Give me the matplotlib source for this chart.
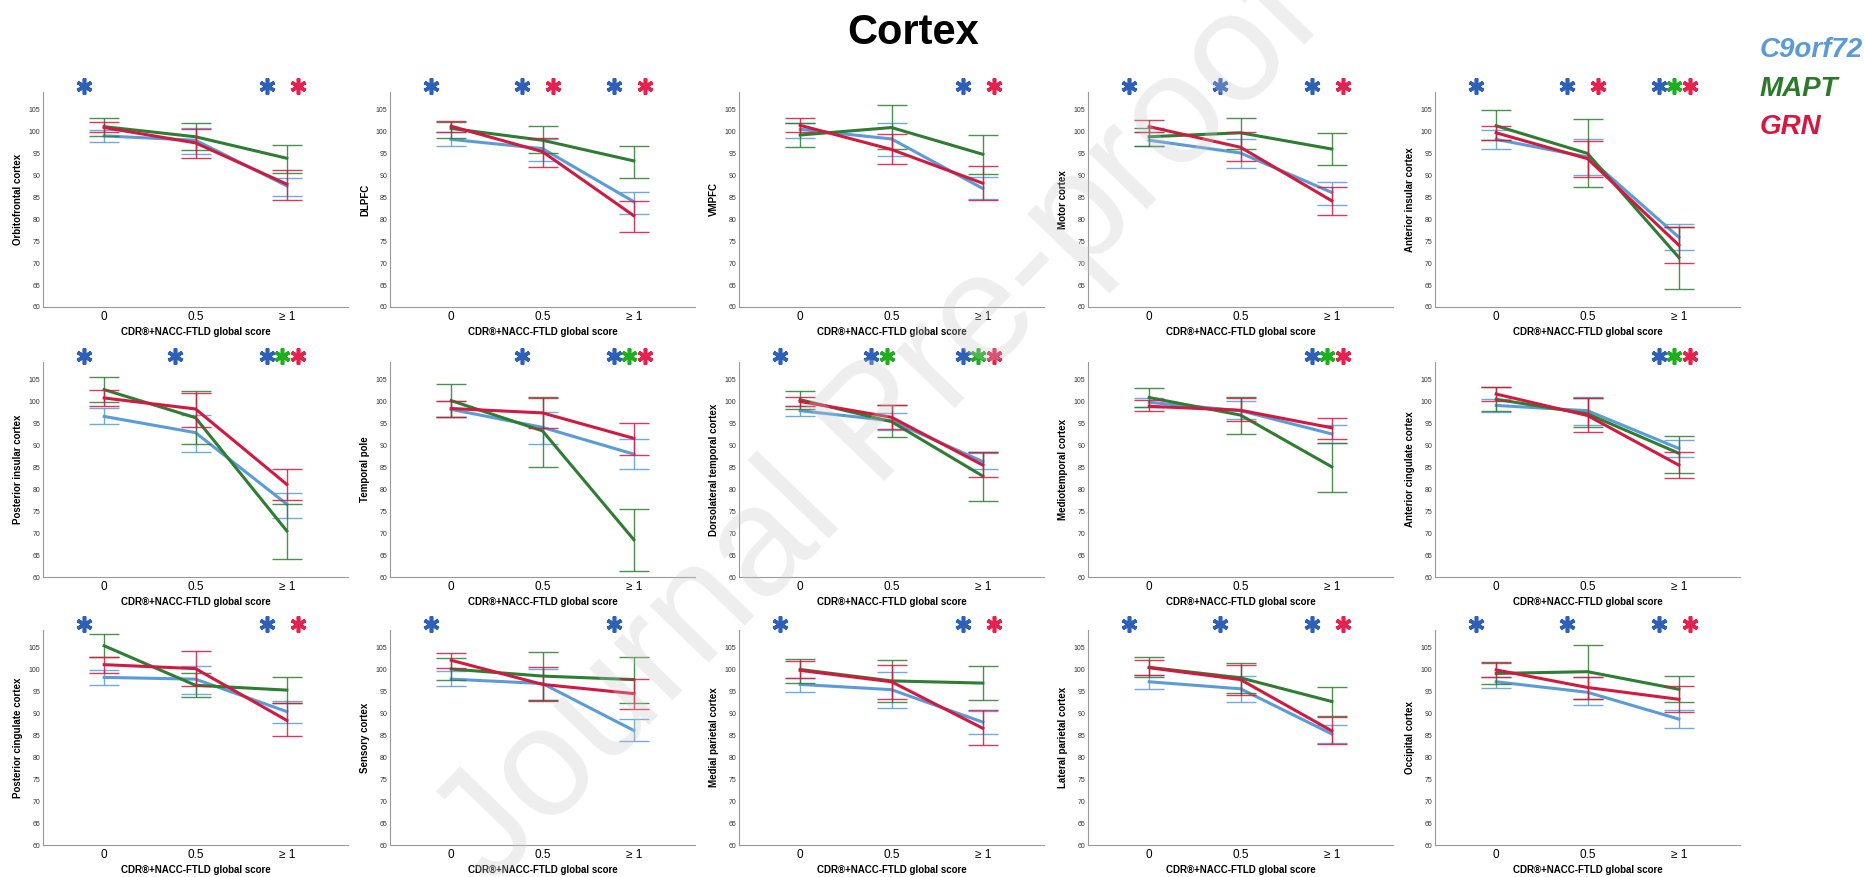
import matplotlib
matplotlib.use("Agg")
import matplotlib.pyplot as plt
import matplotlib.transforms as mtransforms

plt.rcParams['font.family'] = ['Liberation Sans', 'DejaVu Sans']

regions = ["Orbitofrontal cortex", "DLPFC", "VMPFC", "Motor cortex", "Anterior insular cortex",
           "Posterior insular cortex", "Temporal pole", "Dorsolateral temporal cortex",
           "Mediotemporal cortex", "Anterior cingulate cortex",
           "Posterior cingulate cortex", "Sensory cortex", "Medial parietal cortex",
           "Lateral parietal cortex", "Occipital cortex"]
stages = ["0", "0.5", "\u2265 1"]
groups = ["C9orf72", "MAPT", "GRN"]

# mean, lower and upper CI per region (rows) and stage (columns)
c9_mean = [[99.0, 98.0, 87.6], [98.2, 96.1, 84.0], [100.5, 98.3, 87.0], [98.0, 95.1, 86.1], [98.2, 94.2, 75.9],
           [96.6, 92.9, 76.6], [98.2, 94.1, 88.0], [97.9, 95.6, 86.3], [99.8, 97.9, 92.6], [99.1, 97.9, 89.3],
           [98.2, 97.8, 90.4], [97.8, 96.8, 86.1], [96.6, 95.4, 88.0], [97.2, 95.6, 85.3], [97.2, 94.8, 88.7]]
c9_lo = [[97.7, 94.8, 85.2], [96.7, 93.3, 81.2], [98.6, 94.5, 84.5], [96.7, 91.7, 83.3], [96.1, 90.0, 73.0],
         [94.8, 88.5, 73.5], [96.5, 90.4, 84.6], [96.6, 93.5, 84.6], [98.8, 95.9, 90.6], [97.6, 94.7, 87.4],
         [96.4, 94.5, 87.9], [96.3, 93.0, 83.7], [94.9, 91.2, 85.3], [95.6, 92.6, 83.2], [95.8, 91.9, 86.6]]
c9_hi = [[100.3, 100.9, 89.3], [99.9, 98.4, 86.1], [102.0, 102.0, 89.7], [99.8, 98.3, 88.6], [100.3, 98.2, 78.9],
         [98.5, 97.0, 79.2], [100.0, 97.7, 91.5], [99.0, 97.3, 88.2], [100.9, 100.0, 94.6], [100.6, 101.0, 91.2],
         [99.8, 100.8, 92.8], [99.6, 100.0, 88.7], [98.1, 99.5, 90.5], [98.7, 98.5, 87.3], [98.4, 98.2, 90.8]]

mapt_mean = [[101.1, 98.8, 93.9], [100.7, 98.0, 93.3], [99.2, 100.9, 94.8], [98.8, 99.7, 96.0], [101.3, 95.0, 71.3],
             [102.7, 96.3, 70.5], [100.2, 93.3, 68.5], [100.4, 95.4, 83.0], [100.9, 96.9, 85.1], [100.5, 97.2, 88.2],
             [105.4, 96.4, 95.3], [100.1, 98.5, 97.7], [100.0, 97.4, 96.9], [100.5, 98.1, 92.7], [99.1, 99.5, 95.5]]
mapt_lo = [[99.0, 95.8, 90.6], [98.6, 95.0, 89.5], [96.5, 95.9, 90.3], [96.7, 96.0, 92.3], [98.0, 87.3, 64.2],
           [99.8, 90.3, 64.1], [96.5, 85.1, 61.4], [98.2, 91.8, 77.3], [98.8, 92.6, 79.4], [97.9, 94.1, 83.7],
           [102.9, 93.7, 92.4], [97.6, 93.0, 92.4], [97.0, 92.6, 93.0], [98.2, 94.7, 89.3], [96.7, 93.2, 92.5]]
mapt_hi = [[103.0, 102.0, 97.0], [102.2, 101.3, 96.7], [102.0, 106.0, 99.2], [100.8, 103.0, 99.6], [104.9, 102.8, 78.2],
           [105.6, 102.3, 76.7], [104.0, 101.0, 75.6], [102.5, 99.2, 88.4], [103.1, 101.1, 90.6], [103.3, 100.8, 92.2],
           [108.0, 99.3, 98.2], [102.7, 104.0, 102.8], [102.5, 102.1, 100.8], [102.8, 101.4, 96.0], [101.4, 105.5, 98.5]]

grn_mean = [[100.9, 97.4, 88.0], [101.2, 95.4, 80.8], [101.4, 95.9, 88.2], [101.1, 96.4, 84.2], [99.7, 93.8, 74.1],
            [100.8, 98.3, 81.1], [98.4, 97.4, 91.6], [100.0, 96.4, 85.5], [98.9, 98.0, 94.0], [101.7, 96.8, 85.5],
            [101.1, 100.2, 88.4], [102.1, 96.6, 94.5], [99.8, 97.2, 86.6], [100.4, 97.7, 86.0], [99.9, 95.9, 93.2]]
grn_lo = [[99.9, 94.0, 84.4], [99.9, 92.0, 77.0], [99.9, 92.6, 84.4], [99.8, 93.3, 80.9], [98.0, 89.7, 70.0],
          [98.9, 94.3, 77.5], [96.5, 93.9, 87.7], [98.9, 93.7, 82.7], [97.9, 95.6, 91.4], [100.2, 93.1, 82.6],
          [99.3, 96.2, 84.9], [100.4, 92.8, 91.1], [98.1, 93.2, 82.7], [98.7, 94.1, 83.0], [98.3, 93.2, 90.2]]
grn_hi = [[102.2, 100.5, 91.2], [102.3, 98.6, 84.1], [103.0, 99.4, 92.1], [102.7, 99.8, 87.4], [101.3, 97.8, 78.2],
          [102.7, 102.0, 84.6], [100.0, 100.7, 95.2], [101.1, 99.3, 88.4], [100.3, 100.7, 96.3], [103.3, 100.8, 88.4],
          [102.9, 104.3, 92.4], [103.8, 100.5, 97.9], [101.9, 101.1, 90.7], [102.1, 101.1, 89.1], [101.6, 98.4, 96.3]]

# significance stars: B = C9orf72, G = MAPT, R = GRN, one string per stage
stars = [["B", "", "BR"], ["B", "BR", "BR"], ["", "", "BR"], ["B", "B", "BR"], ["B", "BR", "BGR"],
         ["B", "B", "BGR"], ["", "B", "BGR"], ["B", "BG", "BGR"], ["", "", "BGR"], ["", "", "BGR"],
         ["B", "", "BR"], ["B", "", "B"], ["B", "", "BR"], ["B", "B", "BR"], ["B", "B", "BR"]]

line_colors = ["#5b9bd8", "#2e7d32", "#d2193f"]
star_colors = {"B": "#2f60b8", "G": "#1fae1f", "R": "#e5214d"}
star_off = {"B": -0.22, "G": -0.05, "R": 0.12}
legend_colors = ["#5b9bd5", "#2a7a2a", "#d9163f"]

W, H = 1864, 877
fig = plt.figure(figsize=(W / 100, H / 100), dpi=100)

col_left = [43, 390, 739, 1088, 1435]
row_bottom = [307, 577, 845]
ax_w, ax_h = 305, 215

series = [(c9_mean, c9_lo, c9_hi), (mapt_mean, mapt_lo, mapt_hi), (grn_mean, grn_lo, grn_hi)]
x = [0, 1, 2]

for i, region in enumerate(regions):
    r, c = divmod(i, 5)
    ax = fig.add_axes([col_left[c] / W, 1 - row_bottom[r] / H, ax_w / W, ax_h / H])
    for (m, lo, hi), col in zip(series, line_colors):
        mean = m[i]
        err = [[mean[k] - lo[i][k] for k in x], [hi[i][k] - mean[k] for k in x]]
        ax.errorbar(x, mean, yerr=err, fmt='none', ecolor=col, elinewidth=1.0,
                    capsize=11, capthick=1.0, alpha=0.85)
        ax.plot(x, mean, color=col, lw=2.2)

    trans = mtransforms.blended_transform_factory(ax.transData, ax.transAxes)
    for k, code in enumerate(stars[i]):
        for s in code:
            ax.plot(k + star_off[s], 1.03, marker=(6, 2, 0), ms=11.5, mew=2.6,
                    color=star_colors[s], transform=trans, clip_on=False)

    ax.set_xlim(-0.67, 2.67)
    ax.set_ylim(60, 109)
    ax.set_yticks(range(60, 106, 5))
    ax.set_xticks(x)
    ax.set_xticklabels(stages)
    ax.tick_params(axis='y', length=0, labelsize=5, pad=2, labelcolor='#333333')
    ax.tick_params(axis='x', length=0, labelsize=8.5, pad=3)
    for sp in ['top', 'right']:
        ax.spines[sp].set_visible(False)
    for sp in ['left', 'bottom']:
        ax.spines[sp].set_color('#999999')
        ax.spines[sp].set_linewidth(0.8)
    ax.set_ylabel(region, fontsize=7, fontweight='bold', labelpad=4)
    ax.set_xlabel("CDR\u00ae+NACC-FTLD global score", fontsize=7, fontweight='bold', labelpad=3)

fig.text(0.49, 0.962, "Cortex", fontsize=30, fontweight='bold', ha='center', va='center')

for j, (g, col) in enumerate(zip(groups, legend_colors)):
    fig.text(1760 / W, 1 - (50 + j * 38.5) / H, g, fontsize=20, fontweight='bold',
             fontstyle='italic', color=col, ha='left', va='center')

fig.text(0.472, 0.512, "Journal Pre-proof", fontsize=112, color='#c8c8c8', alpha=0.3,
         rotation=46, ha='center', va='center', rotation_mode='anchor')

fig.savefig("out.png", dpi=100)
